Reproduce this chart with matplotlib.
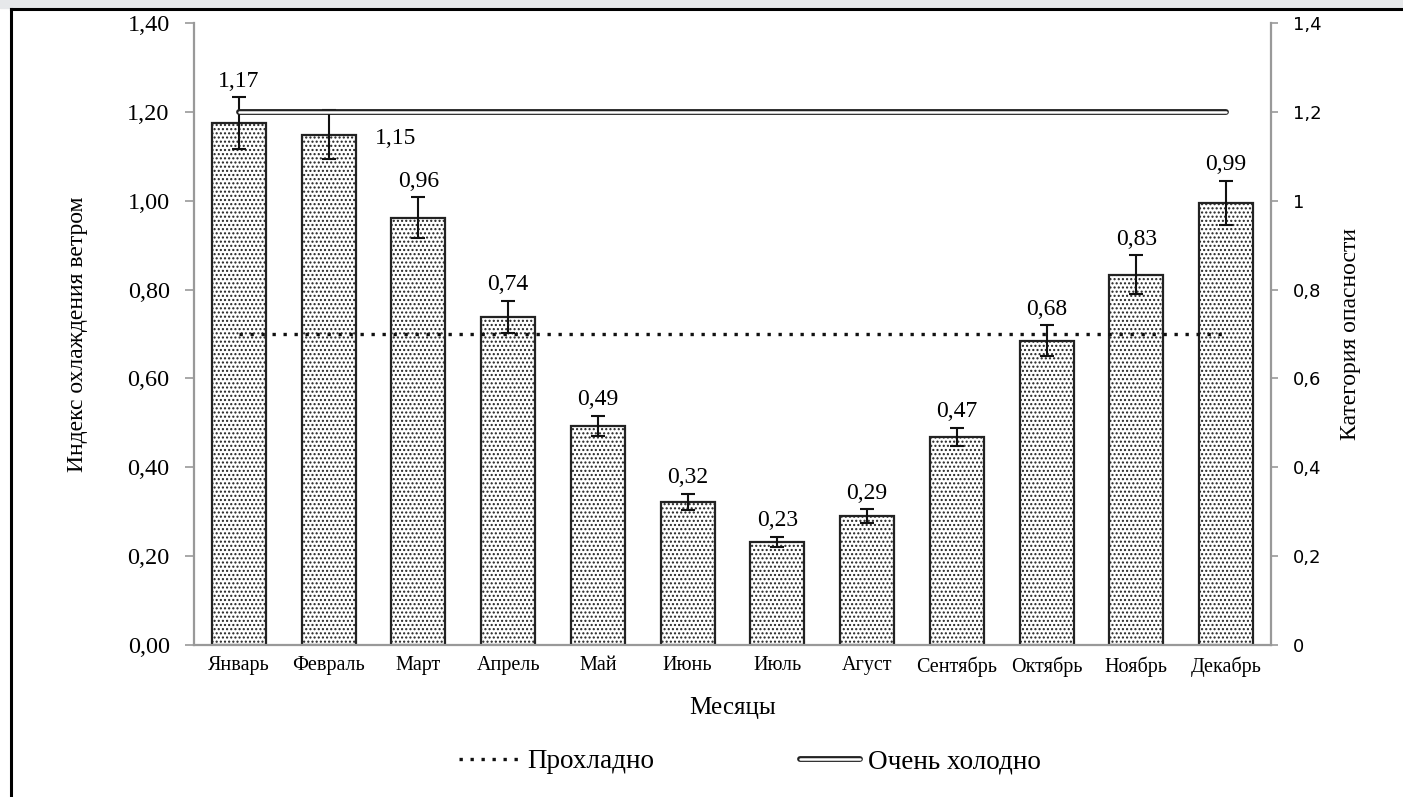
import matplotlib.pyplot as plt
from matplotlib.lines import Line2D
from matplotlib.patches import Rectangle

months = ['Январь', 'Февраль', 'Март', 'Апрель', 'Май', 'Июнь',
          'Июль', 'Агуст', 'Сентябрь', 'Октябрь', 'Ноябрь', 'Декабрь']
values = [1.175, 1.149, 0.962, 0.739, 0.493, 0.322, 0.232, 0.290, 0.468, 0.685, 0.833, 0.995]
errors = [0.058, 0.055, 0.046, 0.036, 0.023, 0.018, 0.012, 0.015, 0.021, 0.035, 0.044, 0.050]
labels = ['1,17', '1,15', '0,96', '0,74', '0,49', '0,32', '0,23', '0,29', '0,47', '0,68', '0,83', '0,99']
cool_level = 0.70
very_cold_level = 1.20

plt.rcParams['font.family'] = ['Liberation Serif', 'DejaVu Serif']
plt.rcParams['hatch.linewidth'] = 1.0

fig = plt.figure(figsize=(14.03, 7.97), dpi=100)
ax = fig.add_axes([194 / 1403, 1 - 645 / 797, (1271 - 194) / 1403, (645 - 23) / 797])

x = list(range(len(months)))
ax.bar(x, values, width=0.6, color='white', edgecolor='#222222', linewidth=1.6,
       hatch='....', zorder=2)
ax.errorbar(x, values, yerr=errors, fmt='none', ecolor='#111111', elinewidth=1.5,
            capsize=5, capthick=1.5, zorder=3)

# линии категорий
ax.plot([x[0], x[-1]], [cool_level] * 2, color='#111111', lw=2.4,
        linestyle=(0, (1, 2.3)), zorder=4)
ax.plot([x[0], x[-1]], [very_cold_level] * 2, color='#222222', lw=4.2,
        solid_capstyle='round', zorder=4)
ax.plot([x[0], x[-1]], [very_cold_level] * 2, color='white', lw=1.8,
        solid_capstyle='round', zorder=5)

# подписи значений
for i, (v, e, t) in enumerate(zip(values, errors, labels)):
    if i == 1:
        ax.annotate(t, (i, v), xytext=(48, -3), textcoords='offset points',
                    ha='center', va='center', fontsize=17, zorder=6)
    else:
        ax.annotate(t, (i, v + e), xytext=(0, 4), textcoords='offset points',
                    ha='center', va='bottom', fontsize=17, zorder=6)

ax.set_xlim(-0.5, 11.5)
ax.set_ylim(0, 1.4)
ax.set_xticks(x)
ax.set_xticklabels(months, fontsize=14.5)
ax.tick_params(axis='x', length=0, pad=8)
yt = [0, 0.2, 0.4, 0.6, 0.8, 1.0, 1.2, 1.4]
ax.set_yticks(yt)
ax.set_yticklabels([f'{v:.2f}'.replace('.', ',') for v in yt], fontsize=17.5)
ax.tick_params(axis='y', length=6.5, width=1.2, color='#999999', pad=11)
ax.set_xlabel('Месяцы', fontsize=18, labelpad=15)
ax.set_ylabel('Индекс охлаждения ветром', fontsize=17, labelpad=28)
for s in ['left', 'bottom']:
    ax.spines[s].set_color('#999999')
    ax.spines[s].set_linewidth(1.6)
ax.spines['top'].set_visible(False)
ax.spines['right'].set_visible(False)

ax2 = ax.twinx()
ax2.set_ylim(0, 1.4)
ax2.set_yticks(yt)
ax2.set_yticklabels(['0', '0,2', '0,4', '0,6', '0,8', '1', '1,2', '1,4'],
                    fontsize=13, family='DejaVu Sans')
ax2.tick_params(axis='y', length=5, width=1.2, color='#999999', pad=11)
ax2.set_ylabel('Категория опасности', fontsize=17, labelpad=13)
ax2.spines['right'].set_color('#999999')
ax2.spines['right'].set_linewidth(1.6)
for s in ['left', 'top', 'bottom']:
    ax2.spines[s].set_visible(False)

h_cool = Line2D([], [], color='#111111', lw=2.4, linestyle=(0, (1, 2.3)))
h_cold = (Line2D([], [], color='#222222', lw=4.2, solid_capstyle='round'),
          Line2D([], [], color='white', lw=1.8, solid_capstyle='round'))
fig.legend([h_cool, h_cold], ['Прохладно', 'Очень холодно'], loc='center',
           bbox_to_anchor=(750 / 1403, 1 - 762 / 797), ncol=2, frameon=False,
           fontsize=19.5, handlelength=2.2, handletextpad=0.3, columnspacing=5.4)

# рамка окна
fig.add_artist(Rectangle((0, 1 - 8 / 797), 1, 8 / 797, transform=fig.transFigure,
                         color='#e6e8ea', zorder=0))
fig.add_artist(Line2D([11 / 1403, 1], [1 - 9 / 797] * 2, color='black', lw=2.2))
fig.add_artist(Line2D([11 / 1403] * 2, [0, 1 - 9 / 797], color='black', lw=2.2))

plt.savefig('out.png', dpi=100)
